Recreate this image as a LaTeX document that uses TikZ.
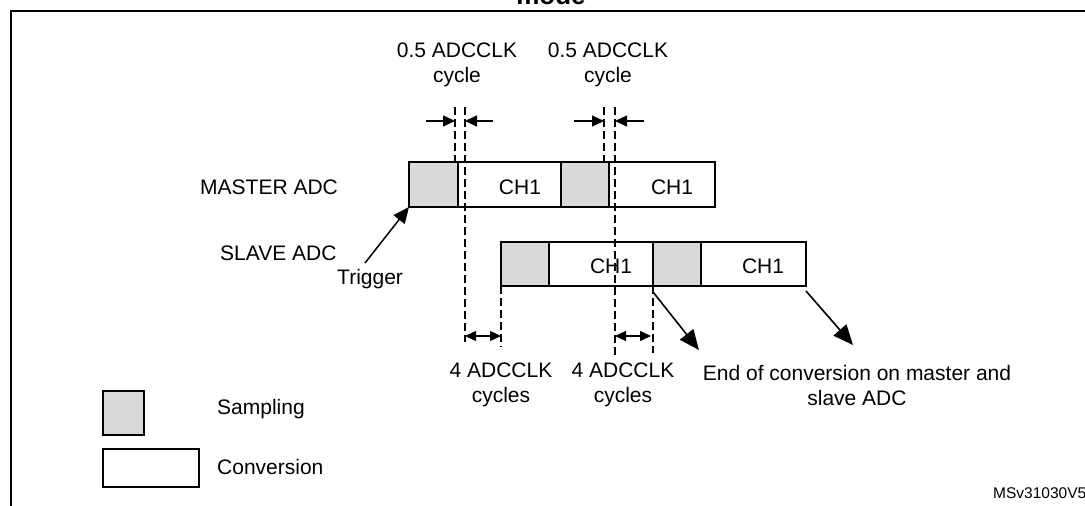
\documentclass[tikz,border=0pt]{standalone}
\usepackage{fontspec}
\setmainfont{Liberation Sans}
\usetikzlibrary{arrows.meta}
\begin{document}
\begin{tikzpicture}[x=1pt,y=-1pt,
  txt/.style={font=\fontsize{21}{25}\selectfont, inner sep=0pt, align=center},
  box/.style={draw=black, line width=1.5pt, inner sep=0pt, outer sep=0pt},
  samp/.style={box, fill=black!15},
  conv/.style={box, fill=white},
  dsh/.style={draw=black, line width=1.2pt, dash pattern=on 8pt off 4pt},
  dim/.style={draw=black, line width=1.3pt, -{Triangle[length=12pt,width=11pt]}},
  dimtwo/.style={draw=black, line width=1.3pt, {Triangle[length=11pt,width=10pt]}-{Triangle[length=11pt,width=10pt]}},
  big/.style={draw=black, line width=1.6pt, -{Triangle[length=20pt,width=17pt]}}
]
\useasboundingbox (0,0) rectangle (1085,506);
\fill[white] (0,0) rectangle (1085,506);
% frame and title
\draw[line width=2pt] (10.5,520) -- (10.5,11) -- (1100,11);
\node[font=\fontsize{26}{30}\selectfont\bfseries, inner sep=0pt, anchor=base] (title) at (551,4.5) {mode};

% master row
\node[samp, minimum width=49pt, minimum height=45pt] (m1s) at (433.5,184.5) {};
\node[conv, minimum width=103pt, minimum height=45pt] (m1c) at (509.5,184.5) {};
\node[samp, minimum width=48pt, minimum height=45pt] (m2s) at (585,184.5) {};
\node[conv, minimum width=106pt, minimum height=45pt] (m2c) at (662,184.5) {};
\node[txt] (m1t) at (520,187) {CH1};
\node[txt] (m2t) at (672,187) {CH1};

% slave row
\node[samp, minimum width=48pt, minimum height=44pt] (s1s) at (525,264) {};
\node[conv, minimum width=104pt, minimum height=44pt] (s1c) at (601,264) {};
\node[samp, minimum width=48pt, minimum height=44pt] (s2s) at (677,264) {};
\node[conv, minimum width=105pt, minimum height=44pt] (s2c) at (753.5,264) {};
\node[txt] (s1t) at (611,266) {CH1};
\node[txt] (s2t) at (763,266) {CH1};

% left labels
\node[txt, anchor=west] (master) at (200,187) {MASTER ADC};
\node[txt, anchor=west] (slave) at (220,253) {SLAVE ADC};
\node[txt, anchor=west] (trig) at (337,279) {Trigger};
\coordinate (trigstart) at (365,263);
\draw[line width=1.5pt, -{Triangle[length=16pt,width=14pt]}] (trigstart) -- (m1s.south west);

% dashed guide lines
\coordinate (d1a) at (455,107); \coordinate (d1ae) at (455,162);
\coordinate (d1b) at (465,107); \coordinate (d1be) at (465,342);
\coordinate (d2a) at (604,107); \coordinate (d2ae) at (604,162);
\coordinate (d2b) at (615,107); \coordinate (d2be) at (615,355);
\coordinate (d3) at (501,286); \coordinate (d3e) at (501,347);
\coordinate (d4) at (653,286); \coordinate (d4e) at (653,353);
\draw[dsh] (d1a) -- (d1ae);
\draw[dsh] (d1b) -- (d1be);
\draw[dsh] (d2a) -- (d2ae);
\draw[dsh] (d2b) -- (d2be);
\draw[dsh] (d3) -- (d3e);
\draw[dsh] (d4) -- (d4e);

% 0.5 cycle dimension arrows
\coordinate (h1l) at (426,121); \coordinate (h1lt) at (455,121);
\coordinate (h1r) at (493,121); \coordinate (h1rt) at (465,121);
\coordinate (h2l) at (574,121); \coordinate (h2lt) at (604,121);
\coordinate (h2r) at (644,121); \coordinate (h2rt) at (615,121);
\draw[dim] (h1l) -- (h1lt);
\draw[dim] (h1r) -- (h1rt);
\draw[dim] (h2l) -- (h2lt);
\draw[dim] (h2r) -- (h2rt);
\node[txt] (half1) at (457,64.5) {0.5 ADCCLK\\cycle};
\node[txt] (half2) at (608,64.5) {0.5 ADCCLK\\cycle};

% 4 cycle dimension arrows
\coordinate (f1a) at (465,336); \coordinate (f1b) at (501,336);
\coordinate (f2a) at (615,336); \coordinate (f2b) at (651,336);
\draw[dimtwo] (f1a) -- (f1b);
\draw[dimtwo] (f2a) -- (f2b);
\node[txt] (four1) at (501,385) {4 ADCCLK\\cycles};
\node[txt] (four2) at (623,385) {4 ADCCLK\\cycles};

% end of conversion arrows
\coordinate (e1) at (699,350);
\coordinate (e2) at (853,345);
\draw[big] ([shift={(0,6)}]s1c.south east) -- (e1);
\draw[big] ([shift={(0,5)}]s2c.south east) -- (e2);
\node[txt] (eoc) at (857,385) {End of conversion on master and\\slave ADC};

% legend
\node[samp, minimum width=41pt, minimum height=44pt] (legs) at (123.5,413) {};
\node[conv, minimum width=96pt, minimum height=38pt] (legc) at (151,468) {};
\node[txt, anchor=west] (legst) at (217,409) {Sampling};
\node[txt, anchor=west] (legct) at (217,467) {Conversion};

\node[font=\fontsize{15.5}{18}\selectfont, inner sep=0pt, anchor=west] (ref) at (993,493) {MSv31030V5};
\end{tikzpicture}
\end{document}
